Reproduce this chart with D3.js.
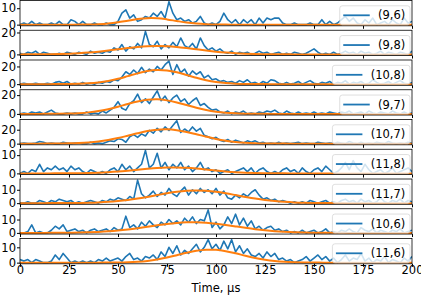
<!DOCTYPE html>
<html>
<head>
<meta charset="utf-8">
<title>Pulse fits</title>
<style>
  body { margin: 0; background: #fff; }
  text { font-family: "DejaVu Sans", sans-serif; }
</style>
</head>
<body>
<script src="https://cdn.jsdelivr.net/npm/d3@7"></script>
<script>
// legend labels, top to bottom
var labels = ["(9,6)", "(9,8)", "(10,8)", "(9,7)", "(10,7)", "(11,8)", "(11,7)", "(10,6)", "(11,6)"];
var yTicks = [[0, 10], [0, 20], [0, 20], [0, 20], [0, 20], [0, 10], [0, 10], [0, 10], [0, 10]];
var xTicks = [0, 25, 50, 75, 100, 125, 150, 175, 200];

// measured counts, one value every 2 us from 0 to 200
var counts96 = [0,1,0,2,0,1,0,0,1,0, 2,0,0,3,2,0,2,0,0,1, 0,0,1,0,0,2,7,9,4,6, 2,3,5,4,7,5,8,4,14,7,
  3,4,2,3,1,2,5,1,0,1, 0,2,7,3,1,3,0,3,1,3, 0,4,1,4,3,4,4,1,0,0, 1,0,0,0,1,0,0,3,0,2,
  0,1,3,5,2,4,1,0,3,1, 4,0,1,2,0,3,1,0,4,1, 2];
var counts98 = [1,0,2,1,3,0,2,1,0,0, 1,0,2,1,0,2,1,0,3,1, 2,1,3,2,6,4,9,3,7,5, 10,6,21,9,7,12,5,9,6,11,
  7,15,8,6,10,5,15,8,4,6, 3,5,2,1,3,0,2,1,2,0, 1,3,1,2,0,1,2,0,1,0, 2,1,0,1,3,5,2,0,1,0,
  2,0,1,3,1,2,0,3,1,2, 0,1,3,0,2,1,0,2,1,0, 3];
var counts108 = [0,1,0,0,1,0,0,1,0,2, 3,1,3,0,1,0,2,0,1,0, 2,1,3,2,5,4,8,14,11,16, 12,19,13,17,14,20,16,22,26,11,
  22,13,17,9,15,11,14,7,10,5, 6,3,4,2,3,1,4,2,5,1, 2,0,3,1,5,4,1,0,2,0, 1,3,0,2,4,1,0,2,1,3,
  0,2,1,4,0,2,1,3,0,1, 5,2,0,1,3,0,2,4,1,0, 2];
var counts97 = [0,1,0,2,1,2,0,2,4,1, 0,0,1,0,1,0,0,2,0,1, 0,3,1,4,7,13,6,4,11,14, 21,12,16,11,18,24.5,14,19,12,17,
  20,13,16,10,14,17,9,11,7,4, 5,2,1,3,0,2,1,3,0,1, 0,2,1,3,2,4,1,0,3,1, 0,2,0,1,0,2,0,1,0,2,
  1,0,2,1,3,0,1,2,0,3, 1,0,2,1,0,3,1,0,2,0, 1];
var counts107 = [0,1,0,0,1,3,2,0,1,0, 0,2,1,0,1,1,0,0,2,0, 1,0,2,4,3,7,6,2,10,13, 9,14,11,19,15,22,17,24,19,26,
  33,16,21,17,24,18,22,12,10,7, 9,5,3,6,2,5,3,1,4,2, 4,1,2,0,1,0,2,0,1,0, 1,2,0,1,0,0,2,1,0,1,
  0,2,1,0,3,1,0,2,0,1, 0,2,1,0,3,1,0,1,0,2, 0];
var counts118 = [0,1,0,2,1,5,1,3,2,4, 2,3,1,4,2,3,1,0,2,1, 0,1,0,2,3,1,5,2,4,1, 3,5,12.6,3,5,11,3,6,2,5,
  3,6,2,4,1,3,6,2,3,1, 2,0,1,2,0,1,2,3,1,3, 0,2,3,1,0,1,0,2,3,1, 2,0,3,1,0,2,3,1,4,2,
  0,1,3,6,2,7,3,1,5,2, 0,1,2,0,1,3,0,1,2,3, 1];
var counts117 = [0,0,1,0,0,2,1,0,2,1, 3,2,1,2,0,1,0,1,2,1, 0,2,1,3,2,4,3,2,5,3, 17.2,7,4,6,9,5,8,6,11,7,
  5,9,12,6,10,7,11,8,10,7, 11,6,9,4,3,6,4,7,5,8, 10,6,3,4,2,3,1,2,1,0, 1,0,1,0,2,1,0,1,2,0,
  1,0,2,3,1,2,0,3,1,2, 0,1,4,1,0,2,1,3,0,2, 1];
var counts106 = [0,0,1,6,0,1,0,0,2,5, 3,6,1,2,3,1,2,0,2,3, 1,2,3,1,4,2,3,12.5,4,6, 3,8,5,9,6,4,8,6,10,7,
  9,6,11,8,12,7,10,9,17.2,4, 8,3,6,12,7,14,6,11,5,9, 3,5,2,4,5,2,3,1,2,0, 1,0,2,0,1,2,0,1,3,0,
  1,0,2,1,3,1,0,4,2,1, 3,0,2,1,0,2,1,3,0,1, 2];
var counts116 = [2,1,2,0,2,1,0,0,1,5, 2,6,3,0,1,0,1,0,1,0, 2,1,3,1,2,3,1,4,6,2, 3,1,4,3,5,2,7,4,10,6,
  11,5,8,6,9,12,7,10,15,9, 12,8,14,9,15,7,11,6,9,5, 4,6,3,7,4,6,2,3,1,2, 0,1,2,4,1,3,5,2,4,1,
  3,0,2,5,1,3,2,6,1,3, 0,2,1,4,0,2,1,0,3,1, 4];

// fitted curves, one value every 5 us from 0 to 200
var fit96 = [0,0,0,0,0,0,0.03,0.11,0.32,0.75, 1.47,2.43,3.37,3.94,3.88,3.2,2.22,1.3,0.64,0.26,
  0.09,0.03,0,0,0,0,0,0,0,0, 0,0,0,0,0,0,0,0,0,0, 0];
var fit98 = [0.02,0.04,0.09,0.18,0.34,0.61,1.04,1.67,2.5,3.53, 4.67,5.81,6.8,7.46,7.7,7.46,6.8,5.81,4.67,3.53,
  2.5,1.67,1.04,0.61,0.34,0.18,0.09,0.04,0.02,0.01, 0,0,0,0,0,0,0,0,0,0, 0];
var fit108 = [0,0,0,0.02,0.05,0.15,0.38,0.9,1.89,3.56, 6.0,9.06,12.2,14.8,15.97,15.4,13.4,10.4,7.2,4.45,
  2.47,1.23,0.54,0.22,0.08,0.03,0,0,0,0, 0,0,0,0,0,0,0,0,0,0, 0];
var fit97 = [0,0,0.02,0.05,0.14,0.35,0.8,1.62,3.0,5.03, 7.66,10.6,13.2,15.0,15.5,14.4,12.2,9.4,6.55,4.14,
  2.37,1.23,0.58,0.25,0.1,0.03,0,0,0,0, 0,0,0,0,0,0,0,0,0,0, 0];
var fit107 = [0,0.01,0.03,0.07,0.18,0.41,0.87,1.71,3.1,5.2, 8.0,11.4,14.9,18.0,20.0,20.5,19.3,16.8,13.5,10.0,
  6.8,4.27,2.47,1.32,0.65,0.29,0.12,0.05,0.02,0, 0,0,0,0,0,0,0,0,0,0, 0];
var fit118 = [0,0,0,0.01,0.02,0.04,0.09,0.19,0.36,0.61, 0.98,1.46,2.0,2.54,2.99,3.25,3.28,3.06,2.64,2.11,
  1.56,1.07,0.68,0.4,0.22,0.11,0.05,0.02,0.01,0, 0,0,0,0,0,0,0,0,0,0, 0];
var fit117 = [0,0,0.01,0.02,0.04,0.08,0.16,0.31,0.56,0.96, 1.55,2.37,3.42,4.68,6.04,7.36,8.48,9.23,9.5,9.23,
  8.48,7.36,6.04,4.68,3.42,2.37,1.55,0.96,0.56,0.31, 0.16,0.08,0.04,0.02,0.01,0,0,0,0,0, 0];
var fit106 = [0,0,0.01,0.03,0.07,0.13,0.25,0.44,0.74,1.18, 1.8,2.6,3.56,4.63,5.72,6.72,7.49,7.93,7.97,7.61,
  6.9,5.94,4.85,3.77,2.78,1.95,1.29,0.82,0.49,0.28, 0.15,0.08,0.04,0.02,0.01,0,0,0,0,0, 0];
var fit116 = [0,0,0,0,0,0,0,0,0.01,0.04, 0.11,0.27,0.59,1.15,2.05,3.3,4.83,6.42,7.72,8.43,
  8.35,7.5,6.11,4.51,3.03,1.84,1.01,0.51,0.23,0.09, 0.03,0.01,0,0,0,0,0,0,0,0, 0];

var series = [counts96, counts98, counts108, counts97, counts107, counts118, counts117, counts106, counts116];
var fits = [fit96, fit98, fit108, fit97, fit107, fit118, fit117, fit106, fit116];
var tData = d3.range(0, 201, 2);
var tFit = d3.range(0, 201, 5);

var w = 421, h = 296;
var left = 20, right = 412;
var top0 = 0.5, step = 29.75, ph = 25.3;
var fs = 11.5;

var svg = d3.select('body')
            .append('svg')
            .attr('width', w)
            .attr('height', h);

var x = d3.scaleLinear().domain([0, 200]).range([left, right]);

series.forEach(function(vals, i) {
    var top = top0 + i * step;
    var bottom = top + ph;
    var m = d3.max(vals);
    var y = d3.scaleLinear().domain([-0.05 * m, 1.05 * m]).range([bottom, top]);

    var g = svg.append('g');

    g.append('clipPath').attr('id', 'clip' + i)
        .append('rect')
        .attr('x', left).attr('y', top)
        .attr('width', right - left).attr('height', ph);

    var plot = g.append('g').attr('clip-path', 'url(#clip' + i + ')');

    var line = d3.line()
        .x(function(d, j) { return x(tData[j]); })
        .y(function(d) { return y(d); });
    plot.append('path')
        .attr('d', line(vals))
        .attr('fill', 'none')
        .attr('stroke', '#1f77b4')
        .attr('stroke-width', 1.6)
        .attr('stroke-linejoin', 'round');

    var fline = d3.line()
        .x(function(d, j) { return x(tFit[j]); })
        .y(function(d) { return y(d); })
        .curve(d3.curveCatmullRom);
    plot.append('path')
        .attr('d', fline(fits[i]))
        .attr('fill', 'none')
        .attr('stroke', '#ff7f0e')
        .attr('stroke-width', 2);

    // axes
    var ya = g.append('g')
        .attr('transform', 'translate(' + left + ',0)')
        .call(d3.axisLeft(y).tickValues(yTicks[i]).tickSize(3).tickPadding(1));
    ya.select('.domain').remove();
    ya.attr('font-size', fs).attr('font-family', 'DejaVu Sans');
    ya.selectAll('text').attr('fill', '#000');

    var xa = g.append('g')
        .attr('transform', 'translate(0,' + bottom + ')')
        .call(d3.axisBottom(x).tickValues(xTicks).tickSize(3));
    xa.select('.domain').remove();
    xa.attr('font-size', fs).attr('font-family', 'DejaVu Sans');
    if (i < series.length - 1) {
        xa.selectAll('text').remove();
    } else {
        xa.selectAll('text').attr('y', 2).attr('dy', '0.71em').attr('fill', '#000');
    }

    g.append('rect')
        .attr('x', left).attr('y', top)
        .attr('width', right - left).attr('height', ph)
        .attr('fill', 'none')
        .attr('stroke', '#000')
        .attr('stroke-width', 0.8);

    // legend
    var lg = g.append('g');
    var box = lg.append('rect');
    var txt = lg.append('text')
        .attr('font-size', fs)
        .attr('dy', '0.36em')
        .text(labels[i]);
    var tw = txt.node().getComputedTextLength();
    var bx = 410 - tw - 43;
    var by = top + 5.3;
    var bh = 19;
    box.attr('x', bx).attr('y', by)
        .attr('width', tw + 43).attr('height', bh)
        .attr('rx', 2.5)
        .attr('fill', '#fff').attr('fill-opacity', 0.8)
        .attr('stroke', '#ccc').attr('stroke-opacity', 0.8)
        .attr('stroke-width', 0.8);
    lg.append('line')
        .attr('x1', bx + 3.5).attr('x2', bx + 30)
        .attr('y1', by + bh / 2).attr('y2', by + bh / 2)
        .attr('stroke', '#1f77b4').attr('stroke-width', 1.8);
    txt.attr('x', bx + 38.3).attr('y', by + bh / 2);
});

svg.append('text')
    .attr('x', (left + right) / 2)
    .attr('y', 292)
    .attr('text-anchor', 'middle')
    .attr('font-size', fs)
    .text('Time, μs');
</script>
</body>
</html>
